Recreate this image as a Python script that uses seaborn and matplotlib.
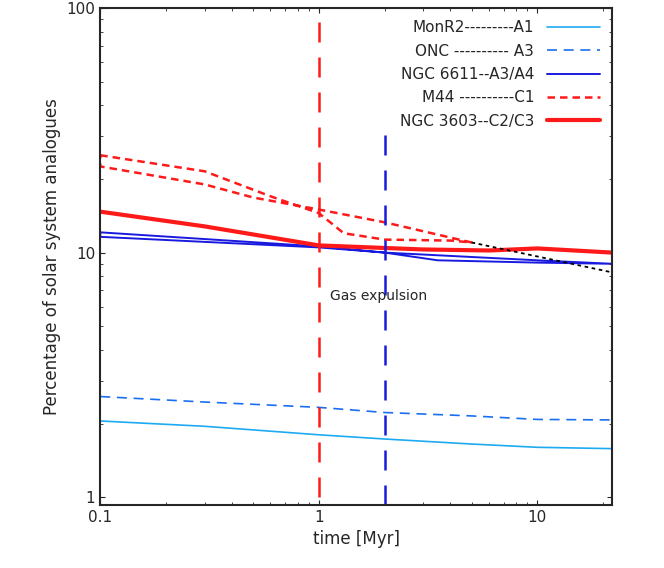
import numpy as np
import matplotlib
matplotlib.use("Agg")
import matplotlib.pyplot as plt
import seaborn as sns

sns.set_style("ticks")
plt.rcParams['font.family'] = ['DejaVu Sans']

t_mon = [0.1, 0.3, 1, 2, 5, 10, 22]
p_mon = [2.05, 1.95, 1.8, 1.73, 1.65, 1.6, 1.58]
t_onc = [0.1, 0.3, 1, 2, 5, 10, 22]
p_onc = [2.58, 2.45, 2.33, 2.22, 2.15, 2.08, 2.07]
t_ngc6611 = [0.1, 1, 2, 3.5, 10, 22, 22, 10, 2, 1, 0.1, 0.1]
p_ngc6611 = [12.1, 10.6, 10.0, 9.3, 9.1, 9.0, 9.0, 9.3, 10.0, 10.5, 11.6, 12.1]
t_m44 = [0.1, 0.3, 0.6, 1, 1.3, 2, 4, 5, 2, 1, 0.5, 0.3, 0.1, 0.1]
p_m44 = [25, 21.5, 17, 14.5, 12, 11.3, 11.2, 11, 13.3, 15, 16.8, 19, 22.5, 25]
t_ngc3603 = [0.1, 0.3, 1, 3, 6, 10, 22]
p_ngc3603 = [14.7, 12.8, 10.7, 10.3, 10.2, 10.4, 10.0]
t_extra = [5, 22]
p_extra = [11, 8.3]

fig, ax = plt.subplots(figsize=(6.64, 5.68), dpi=100)
fig.subplots_adjust(left=0.151, right=0.922, top=0.986, bottom=0.111)

kw = dict(ax=ax, sort=False, estimator=None)
sns.lineplot(x=t_mon, y=p_mon, color='#1eaaf1', lw=1.2,
             label='MonR2---------A1', **kw)
sns.lineplot(x=t_onc, y=p_onc, color='#1a6ff0', lw=1.2,
             dashes=(6, 4), label='ONC ---------- A3', **kw)
sns.lineplot(x=t_ngc6611, y=p_ngc6611, color='#1a1adf', lw=1.4,
             label='NGC 6611--A3/A4', **kw)
sns.lineplot(x=t_m44, y=p_m44, color='#ff1a1a', lw=1.8,
             dashes=(3, 2), label='M44 ----------C1', **kw)
sns.lineplot(x=t_ngc3603, y=p_ngc3603, color='#ff1a1a', lw=3,
             label='NGC 3603--C2/C3', **kw)
ax.plot(t_extra, p_extra, color='black', lw=1.3, ls=(0, (2, 2)))

ax.plot([1, 1], [1.0, 100], color='#ff1a1a', lw=1.8, ls=(0, (8, 6)))
ax.plot([2, 2], [0.93, 32], color='#1a1adf', lw=1.8, ls=(0, (8, 6)))
ax.text(1.12, 6.4, 'Gas expulsion', fontsize=10)

ax.set_xscale('log')
ax.set_yscale('log')
ax.set_xlim(0.1, 22)
ax.set_ylim(0.93, 100)
ax.set_xticks([0.1, 1, 10])
ax.set_xticklabels(['0.1', '1', '10'])
ax.set_yticks([1, 10, 100])
ax.set_yticklabels(['1', '10', '100'])
ax.tick_params(which='both', direction='in', top=True, right=True, labelsize=11)
ax.set_xlabel('time [Myr]', fontsize=12)
ax.set_ylabel('Percentage of solar system analogues', fontsize=12)
for s in ax.spines.values():
    s.set_linewidth(1.5)

leg = ax.legend(loc='upper right', markerfirst=False, frameon=False, fontsize=11,
                handlelength=3.5, labelspacing=0.55, borderaxespad=0.4)
fig.savefig('out.png', dpi=100)
